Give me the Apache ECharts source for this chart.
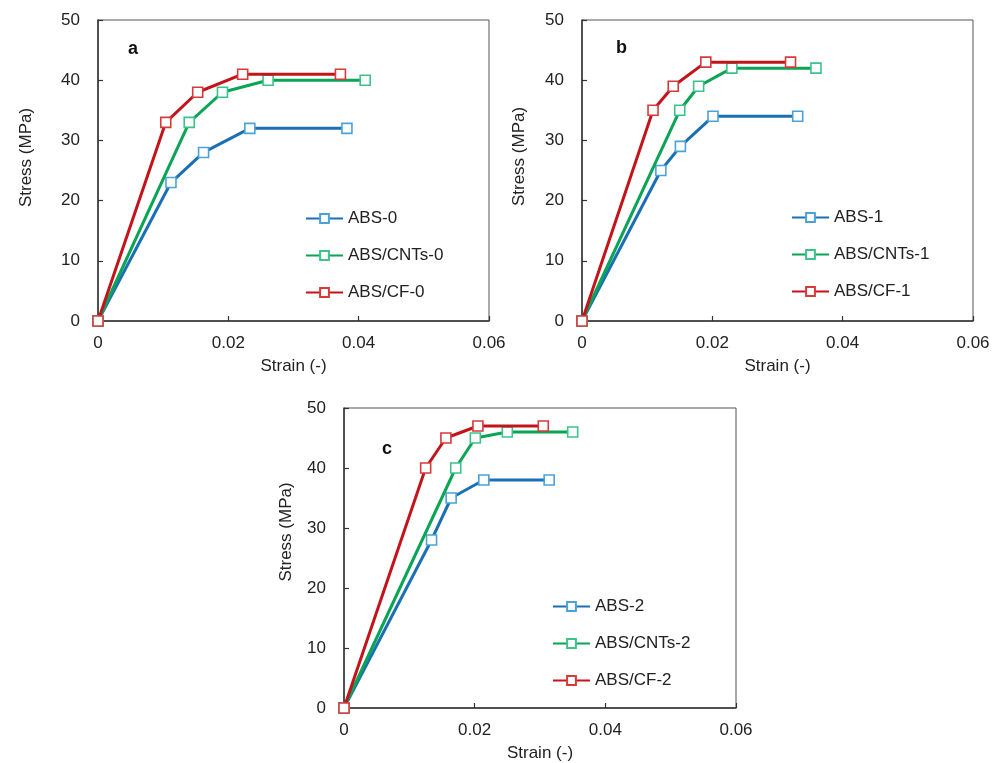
<!DOCTYPE html>
<html>
<head>
<meta charset="utf-8">
<script src="https://cdn.jsdelivr.net/npm/echarts@6/dist/echarts.min.js"></script>
<style>html,body{margin:0;padding:0;background:#fff}#c{width:1006px;height:763px}</style>
</head>
<body>
<div id="c"></div>
<script>
// ---- Data ----
var xTicks = [0, 0.02, 0.04, 0.06];
var yTicks = [0, 10, 20, 30, 40, 50];
var panelLabels = ['a', 'b', 'c'];

var absStrain0 = [0, 0.0112, 0.0162, 0.0233, 0.0382];
var absStress0 = [0, 23, 28, 32, 32];
var cntStrain0 = [0, 0.0140, 0.0191, 0.0261, 0.0410];
var cntStress0 = [0, 33, 38, 40, 40];
var cfStrain0  = [0, 0.0104, 0.0153, 0.0222, 0.0372];
var cfStress0  = [0, 33, 38, 41, 41];

var absStrain1 = [0, 0.0121, 0.0151, 0.0201, 0.0331];
var absStress1 = [0, 25, 29, 34, 34];
var cntStrain1 = [0, 0.0150, 0.0179, 0.0230, 0.0359];
var cntStress1 = [0, 35, 39, 42, 42];
var cfStrain1  = [0, 0.0109, 0.0140, 0.0190, 0.0320];
var cfStress1  = [0, 35, 39, 43, 43];

var absStrain2 = [0, 0.0134, 0.0164, 0.0214, 0.0314];
var absStress2 = [0, 28, 35, 38, 38];
var cntStrain2 = [0, 0.0171, 0.0201, 0.0250, 0.0350];
var cntStress2 = [0, 40, 45, 46, 46];
var cfStrain2  = [0, 0.0125, 0.0156, 0.0205, 0.0305];
var cfStress2  = [0, 40, 45, 47, 47];

var seriesNames = [
  ['ABS-0', 'ABS/CNTs-0', 'ABS/CF-0'],
  ['ABS-1', 'ABS/CNTs-1', 'ABS/CF-1'],
  ['ABS-2', 'ABS/CNTs-2', 'ABS/CF-2']
];
var strains = [
  [absStrain0, cntStrain0, cfStrain0],
  [absStrain1, cntStrain1, cfStrain1],
  [absStrain2, cntStrain2, cfStrain2]
];
var stresses = [
  [absStress0, cntStress0, cfStress0],
  [absStress1, cntStress1, cfStress1],
  [absStress2, cntStress2, cfStress2]
];

// ---- Styling / layout ----
var FONT = "'Liberation Sans', Arial, sans-serif";
var lineColors = ['#1b70b5', '#0aa455', '#c3141b'];
var markColors = ['#4aa3d8', '#3cc38a', '#d83a3a'];
var grids = [
  {left: 98, top: 20, width: 391, height: 301},
  {left: 582, top: 20, width: 391, height: 301},
  {left: 344, top: 408, width: 392, height: 302}
];
var yNameGap = [63, 54, 49];
var yNamePad = [26, 28, 52];
var legendPos = [
  {left: 300, top: 205},
  {left: 786, top: 204},
  {left: 547, top: 593}
];
var labelPos = [
  {left: 123, top: 35},
  {left: 611, top: 34},
  {left: 377, top: 435}
];

function pairs(xs, ys) {
  return xs.map(function (x, i) { return [x, ys[i]]; });
}

var option = {
  backgroundColor: '#fff',
  animation: false,
  textStyle: {fontFamily: FONT},
  title: [], grid: [], xAxis: [], yAxis: [], legend: [], series: []
};

for (var p = 0; p < 3; p++) {
  var g = grids[p];
  option.grid.push({left: g.left, top: g.top, width: g.width, height: g.height,
    show: true, borderColor: '#555', borderWidth: 1, containLabel: false});
  option.title.push({text: panelLabels[p], left: labelPos[p].left, top: labelPos[p].top,
    textStyle: {fontFamily: FONT, fontSize: 18, fontWeight: 'bold', color: '#111'}});
  option.xAxis.push({
    type: 'value', gridIndex: p, min: xTicks[0], max: xTicks[xTicks.length - 1],
    interval: xTicks[1] - xTicks[0],
    name: 'Strain (-)', nameLocation: 'middle', nameGap: 37,
    nameTextStyle: {fontFamily: FONT, fontSize: 17, color: '#222'},
    axisLine: {show: true, lineStyle: {color: '#333', width: 1.5}},
    axisTick: {show: true, inside: true, length: 5, lineStyle: {color: '#333', width: 1.2}},
    axisLabel: {fontFamily: FONT, fontSize: 17, color: '#222', margin: 14},
    splitLine: {show: false}
  });
  option.yAxis.push({
    type: 'value', gridIndex: p, min: yTicks[0], max: yTicks[yTicks.length - 1],
    interval: yTicks[1] - yTicks[0],
    name: 'Stress (MPa)', nameLocation: 'middle', nameGap: yNameGap[p],
    nameTextStyle: {fontFamily: FONT, fontSize: 17, color: '#222', padding: [0, 0, 0, yNamePad[p]]},
    axisLine: {show: true, lineStyle: {color: '#333', width: 1.5}},
    axisTick: {show: true, inside: true, length: 5, lineStyle: {color: '#333', width: 1.2}},
    axisLabel: {fontFamily: FONT, fontSize: 17, color: '#222', margin: 18},
    splitLine: {show: false}
  });
  option.legend.push({
    orient: 'vertical', left: legendPos[p].left, top: legendPos[p].top,
    itemWidth: 37, itemHeight: 11, itemGap: 20,
    data: seriesNames[p],
    textStyle: {fontFamily: FONT, fontSize: 17, color: '#222'}
  });
  for (var s = 0; s < 3; s++) {
    option.series.push({
      type: 'line', name: seriesNames[p][s], xAxisIndex: p, yAxisIndex: p,
      data: pairs(strains[p][s], stresses[p][s]),
      symbol: 'rect', symbolSize: 10, showAllSymbol: true,
      lineStyle: {color: lineColors[s], width: 3},
      itemStyle: {color: '#fff', borderColor: markColors[s], borderWidth: 1.6},
      emphasis: {disabled: true},
      z: 2 + s
    });
  }
}

var chart = echarts.init(document.getElementById('c'), null, {renderer: 'canvas'});
chart.setOption(option);
</script>
</body>
</html>
